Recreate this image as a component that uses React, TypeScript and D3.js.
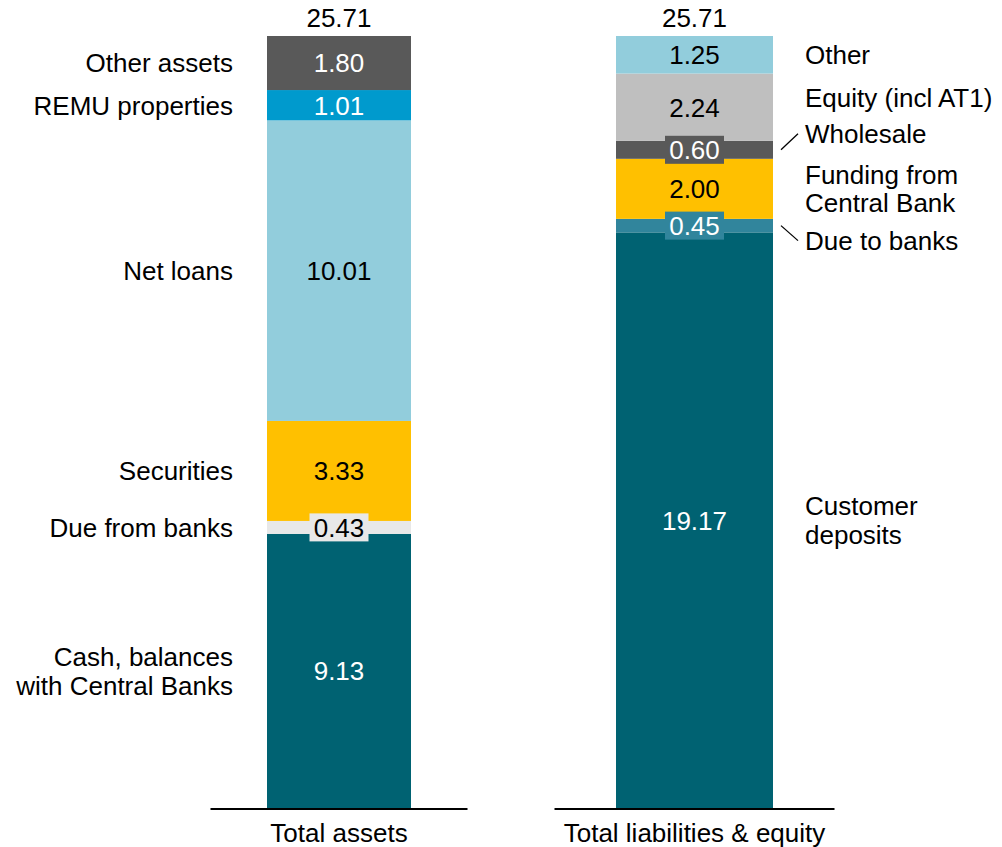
import React from 'react';
import * as d3 from 'd3';

// Balance sheet data (EUR bn)
const bars = ['Total assets', 'Total liabilities & equity'];
const totals = [25.71, 25.71];

const assetLabels = ['Cash, balances\nwith Central Banks', 'Due from banks', 'Securities', 'Net loans', 'REMU properties', 'Other assets'];
const assetValues = [9.13, 0.43, 3.33, 10.01, 1.01, 1.80];
const assetColors = ['#006272', '#E8E8E8', '#FFC000', '#92CDDC', '#009ACD', '#595959'];

const liabLabels = ['Customer\ndeposits', 'Due to banks', 'Funding from\nCentral Bank', 'Wholesale', 'Equity (incl AT1)', 'Other'];
const liabValues = [19.17, 0.45, 2.00, 0.60, 2.24, 1.25];
const liabColors = ['#006272', '#31859C', '#FFC000', '#595959', '#BFBFBF', '#92CDDC'];

// layout
const W = 1002;
const H = 847;
const fontSize = 26;
const barWidths = [144, 157];
const axisHalf = [128.5, 140];
const darkFills = ['#006272', '#595959', '#009ACD', '#31859C'];
// small segments get a boxed value label
const boxed = [[false, true, false, false, false, false], [false, true, false, true, false, false]];
// right-side label nudges (px) and leader lines
const liabLabelShift = [0, 15, 0, -16, -10, 0];
const liabLeader = [false, true, false, true, false, false];

const fontFamily = '"Liberation Sans", Arial, sans-serif';

const App = () => {
  const x = d3.scalePoint<string>().domain(bars).range([339, 694.5]);
  const y = d3.scaleLinear().domain([0, 25.71]).range([808, 36]);

  const stacks = [assetValues, liabValues].map(vals => {
    let acc = 0;
    return vals.map(v => {
      const s = { y0: acc, y1: acc + v, v };
      acc += v;
      return s;
    });
  });
  const colors = [assetColors, liabColors];

  const multiLine = (txt: string, cx: number, cy: number, anchor: string, key: string) => {
    const lines = txt.split('\n');
    const lh = 28.5;
    return (
      <text key={key} x={cx} textAnchor={anchor} fontSize={fontSize} fill="#000">
        {lines.map((l, i) => (
          <tspan key={i} x={cx} y={cy + (i - (lines.length - 1) / 2) * lh} dy="0.36em">{l}</tspan>
        ))}
      </text>
    );
  };

  return (
    <svg width={W} height={H} style={{ position: 'absolute', left: 0, top: 0, fontFamily }}>
      {bars.map((b, bi) => {
        const cx = x(b)!;
        const bw = barWidths[bi];
        return (
          <g key={b}>
            {stacks[bi].map((s, si) => (
              <rect key={si} x={cx - bw / 2} width={bw} y={y(s.y1)} height={y(s.y0) - y(s.y1)} fill={colors[bi][si]} />
            ))}
            {stacks[bi].map((s, si) => {
              const cy = (y(s.y0) + y(s.y1)) / 2;
              const fill = colors[bi][si];
              const txtColor = darkFills.includes(fill) ? '#fff' : '#000';
              return (
                <g key={'v' + si}>
                  {boxed[bi][si] && <rect x={cx - 29.5} y={cy - 14} width={59} height={28} fill={fill} />}
                  <text x={cx} y={cy} dy="0.36em" textAnchor="middle" fontSize={fontSize} fill={txtColor}>
                    {s.v.toFixed(2)}
                  </text>
                </g>
              );
            })}
            <text x={cx} y={y(totals[bi]) - 9} textAnchor="middle" fontSize={fontSize} fill="#000">
              {totals[bi].toFixed(2)}
            </text>
            <line x1={cx - axisHalf[bi]} x2={cx + axisHalf[bi]} y1={y(0) + 1} y2={y(0) + 1} stroke="#000" strokeWidth={2} />
            <text x={cx} y={842} textAnchor="middle" fontSize={fontSize} fill="#000">{b}</text>
          </g>
        );
      })}
      {stacks[0].map((s, si) => multiLine(assetLabels[si], 233, (y(s.y0) + y(s.y1)) / 2, 'end', 'a' + si))}
      {stacks[1].map((s, si) => {
        const cy = (y(s.y0) + y(s.y1)) / 2;
        const ly = cy + liabLabelShift[si];
        const barRight = x(bars[1])! + barWidths[1] / 2;
        return (
          <g key={'l' + si}>
            {multiLine(liabLabels[si], 805, ly, 'start', 'lt' + si)}
            {liabLeader[si] && (
              <line x1={barRight + 8} y1={cy} x2={barRight + 25} y2={ly} stroke="#000" strokeWidth={1.3} />
            )}
          </g>
        );
      })}
    </svg>
  );
};

export default App;
